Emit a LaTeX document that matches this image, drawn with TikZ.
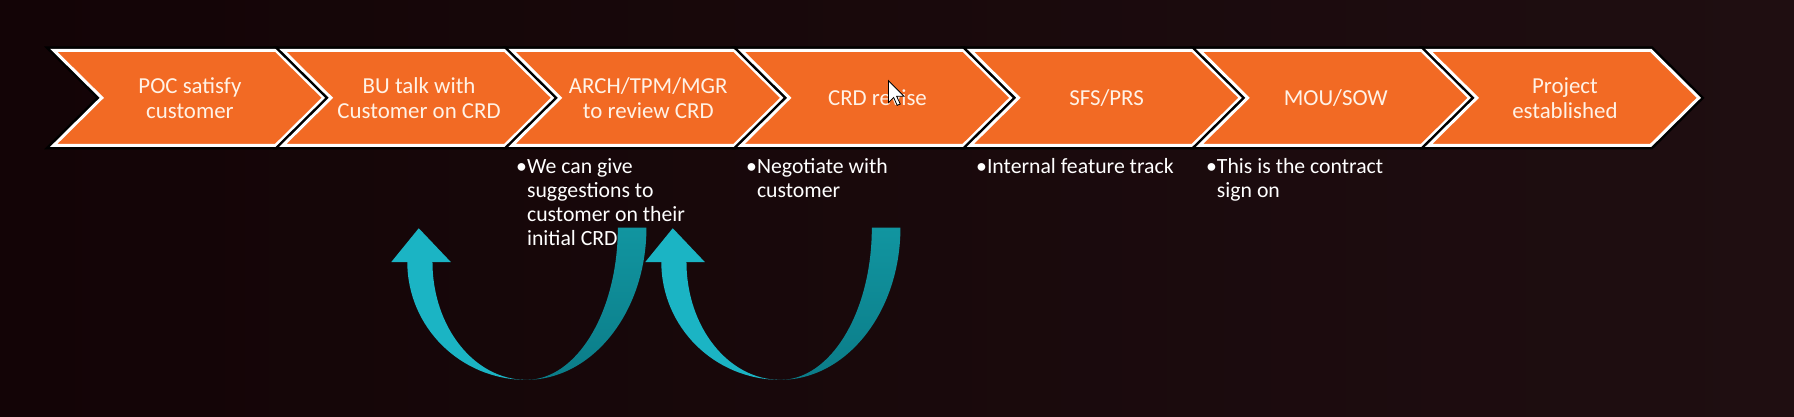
\documentclass[tikz,border=0pt]{standalone}
\usepackage{fontspec}
\setmainfont{Carlito}
\usepackage{tikz}
\usetikzlibrary{positioning, calc}
\definecolor{SlideBg}{HTML}{130406}
\definecolor{SlideBgLight}{HTML}{1F0E11}
\definecolor{StepOrange}{HTML}{F26A24}
\definecolor{StepText}{HTML}{FFF2E6}
\definecolor{LoopTeal}{HTML}{1BB4C4}
\definecolor{LoopDark}{HTML}{0B7C88}
\definecolor{LoopMid}{HTML}{1195A0}

\begin{document}
\begin{tikzpicture}[x=1pt, y=-1pt, line join=miter]
    \tikzstyle{chevbox} = [fill=StepOrange, draw=white, line width=2.6pt, preaction={draw=black, line width=7pt}]
    \tikzstyle{chevtext} = [text=StepText, align=center, font=\fontsize{20}{22}\selectfont]
    \tikzstyle{note} = [text=white, anchor=north west, inner sep=0pt, font=\fontsize{19}{21}\selectfont]
    \tikzstyle{loopfront} = [fill=LoopTeal]
    \tikzstyle{loopback} = [top color=LoopMid, bottom color=LoopDark]

    % slide background
    \useasboundingbox (0,0) rectangle (1568,364);
    \shade[left color=SlideBg, right color=SlideBgLight] (0,0) rectangle (1568,364);

    % process chevrons
    \foreach \name/\txt [count=\i from 0] in {poc/{POC satisfy\\customer}, butalk/{BU talk with\\Customer on CRD}, review/{ARCH/TPM/MGR\\to review CRD}, revise/{CRD revise}, sfs/{SFS/PRS}, mou/{MOU/SOW}, project/{Project\\established}} {
        \begin{scope}[xshift=\i*200.3pt]
            \path[chevbox] (47,44) -- (241,44) -- (283,85.5) -- (241,127) -- (47,127) -- (89,85.5) -- cycle;
            \node[chevtext] (\name) at (166,85.5) {\txt};
        \end{scope}
    }

    % notes under the steps
    \node[note] (givenote) at (451,137) {\begin{tabular}{@{}l@{}l@{}}\textbullet & We can give\\ & suggestions to\\ & customer on their\\ & initial CRD\end{tabular}};
    \node[note] (negonote) at (652,137) {\begin{tabular}{@{}l@{}l@{}}\textbullet & Negotiate with\\ & customer\end{tabular}};
    \node[note] (tracknote) at (853,137) {\begin{tabular}{@{}l@{}l@{}}\textbullet & Internal feature track\end{tabular}};
    \node[note] (signnote) at (1054,137) {\begin{tabular}{@{}l@{}l@{}}\textbullet & This is the contract\\ & sign on\end{tabular}};

    % curved loop arrows
    \foreach \dx in {0, 222} {
        \begin{scope}[xshift=\dx pt]
            \path[loopback] (565,199) .. controls (565,272.4) and (518,332) .. (460,332)
                .. controls (504.2,332) and (540,272.4) .. (540,199) -- cycle;
            \path[loopfront] (356,229) .. controls (356,285.9) and (402.6,332) .. (460,332)
                .. controls (414.7,332) and (378,285.9) .. (378,229) -- cycle;
            \path[loopfront] (342,229) -- (366,199.5) -- (394,229) -- cycle;
        \end{scope}
    }

    % mouse pointer
    \begin{scope}[shift={(776.5,70.5)}, scale=1.2]
        \filldraw[fill=white, draw=black, line width=0.7pt] (0,0) -- (0,16) -- (3.8,12.3) -- (6.4,18) -- (8.6,17) -- (6,11.4) -- (11.4,11.4) -- cycle;
    \end{scope}
\end{tikzpicture}
\end{document}
